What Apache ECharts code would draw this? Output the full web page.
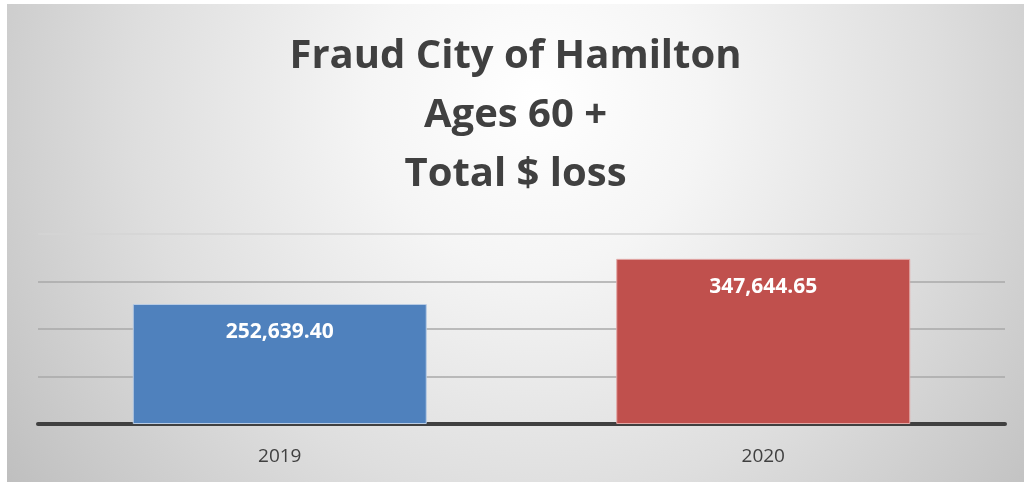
<!DOCTYPE html>
<html>
<head>
<meta charset="utf-8">
<script src="https://cdn.jsdelivr.net/npm/echarts@6/dist/echarts.min.js"></script>
<style>
  html, body { margin: 0; padding: 0; background: #fff; }
  #chart { position: absolute; left: 7px; top: 4px; width: 1017px; height: 478px; }
</style>
</head>
<body>
<div id="chart"></div>
<script>
const years = ['2019', '2020'];
const losses = [252639.40, 347644.65];
const barColors = ['#4F81BD', '#C0504D'];
const barBorders = ['#b9cce4', '#e3a9a7'];

const chart = echarts.init(document.getElementById('chart'));

chart.setOption({
  animation: false,
  backgroundColor: {
    type: 'radial', x: 0.52, y: 0.2, r: 1.4,
    colorStops: [
      { offset: 0, color: '#ffffff' },
      { offset: 0.25, color: '#f5f5f5' },
      { offset: 0.6, color: '#dedede' },
      { offset: 1, color: '#bdbdbd' },
    ],
  },
  title: {
    text: 'Fraud City of Hamilton\nAges 60 +\nTotal $ loss',
    left: 'center', top: 18,
    padding: [5, 0, 5, 10],
    textStyle: {
      fontFamily: 'Open Sans', fontWeight: 'bold', fontSize: 40,
      color: '#404040', lineHeight: 59,
    },
  },
  grid: { left: 31, right: 19, top: 230, bottom: 58 },
  xAxis: {
    type: 'category', data: years,
    axisLine: { lineStyle: { color: '#404040', width: 4 } },
    axisTick: { show: false },
    axisLabel: { color: '#404040', fontSize: 19, fontFamily: 'Open Sans', margin: 23 },
  },
  yAxis: {
    type: 'value', min: 0, max: 400000, interval: 100000,
    axisLabel: { show: false },
    axisLine: { show: false },
    axisTick: { show: false },
    splitLine: { lineStyle: { color: ['#a8a8a8', '#a8a8a8', '#a8a8a8', '#a8a8a8', '#d4d4d4'], width: 1.5 } },
  },
  series: [{
    type: 'bar',
    barWidth: 294,
    data: losses.map((v, i) => ({
      value: v,
      itemStyle: { color: barColors[i], borderColor: barBorders[i], borderWidth: 1 },
    })),
    label: {
      show: true, position: 'insideTop', distance: 18,
      color: '#ffffff', fontWeight: 'bold', fontSize: 21, fontFamily: 'Open Sans',
      formatter: p => p.value.toLocaleString('en-US', { minimumFractionDigits: 2, maximumFractionDigits: 2 }),
    },
  }],
});
</script>
</body>
</html>
